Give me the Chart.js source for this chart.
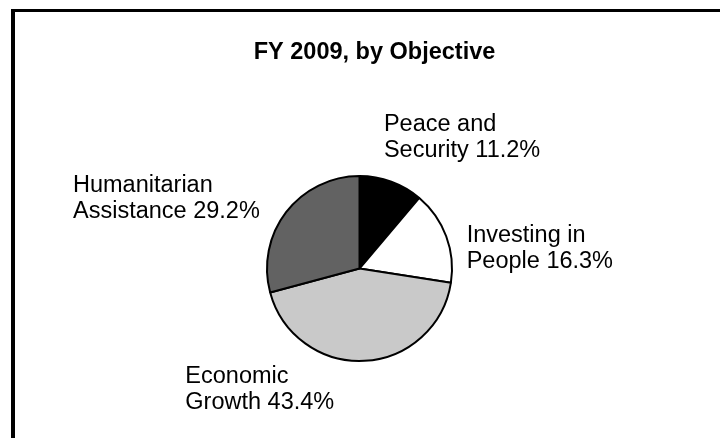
<!DOCTYPE html>
<html>
<head>
<meta charset="utf-8">
<script src="https://cdn.jsdelivr.net/npm/chart.js@4.4.1/dist/chart.umd.min.js"></script>
<style>
  html, body { margin: 0; padding: 0; background: #fff; overflow: hidden; }
  .wrap { position: relative; width: 720px; height: 438px; }
  .frame {
    position: absolute; left: 11px; top: 9px; width: 800px; height: 500px;
    border-top: 3px solid #000; border-left: 4px solid #000;
    pointer-events: none;
  }
  canvas { position: absolute; left: 0; top: 0; }
</style>
</head>
<body>
<div class="wrap">
  <canvas id="chart" width="720" height="438"></canvas>
  <div class="frame"></div>
</div>
<script>
// FY 2009 budget split by objective
const titleText = "FY 2009, by Objective";
const categories = [
  ["Peace and", "Security"],
  ["Investing in", "People"],
  ["Economic", "Growth"],
  ["Humanitarian", "Assistance"]
];
const shares = [11.2, 16.3, 43.4, 29.2];
const sliceColors = ["#000000", "#ffffff", "#c9c9c9", "#626262"];

const FONT = "'Liberation Sans', Arial, sans-serif";

// title + two-line slice labels, placed off each arc's mid angle
const pieLabels = {
  id: "pieLabels",
  afterDraw(chart, args, opts) {
    const ctx = chart.ctx;
    const arcs = chart.getDatasetMeta(0).data;
    ctx.save();
    ctx.fillStyle = "#000";
    ctx.textBaseline = "alphabetic";

    ctx.font = "bold 23.5px " + FONT;
    ctx.textAlign = "center";
    ctx.fillText(titleText, opts.titleX, opts.titleY);

    ctx.font = "23.5px " + FONT;
    ctx.textAlign = "left";
    arcs.forEach((arc, i) => {
      const mid = (arc.startAngle + arc.endAngle) / 2;
      const r = arc.outerRadius + opts.gap;
      const ax = arc.x + Math.cos(mid) * r;
      const ay = arc.y + Math.sin(mid) * r;
      const [dx, dy] = opts.offsets[i];
      const lines = categories[i];
      ctx.fillText(lines[0], ax + dx, ay + dy);
      ctx.fillText(lines[1] + " " + shares[i].toFixed(1) + "%", ax + dx, ay + dy + opts.lineHeight);
    });
    ctx.restore();
  }
};

new Chart(document.getElementById("chart"), {
  type: "pie",
  data: {
    labels: categories.map(l => l.join(" ")),
    datasets: [{
      data: shares,
      backgroundColor: sliceColors,
      borderColor: "#000",
      borderWidth: 2
    }]
  },
  options: {
    responsive: false,
    animation: false,
    events: [],
    radius: 92.5,
    layout: { padding: { top: 99, bottom: 0, left: 0, right: 1 } },
    plugins: {
      legend: { display: false },
      tooltip: { enabled: false },
      pieLabels: {
        titleX: 374.5,
        titleY: 58.5,
        gap: 13,
        lineHeight: 26,
        offsets: [[-11.9, -38.7], [8.3, 10], [-179.8, 9.6], [-202.8, -12]]
      }
    }
  },
  plugins: [pieLabels]
});
</script>
</body>
</html>
